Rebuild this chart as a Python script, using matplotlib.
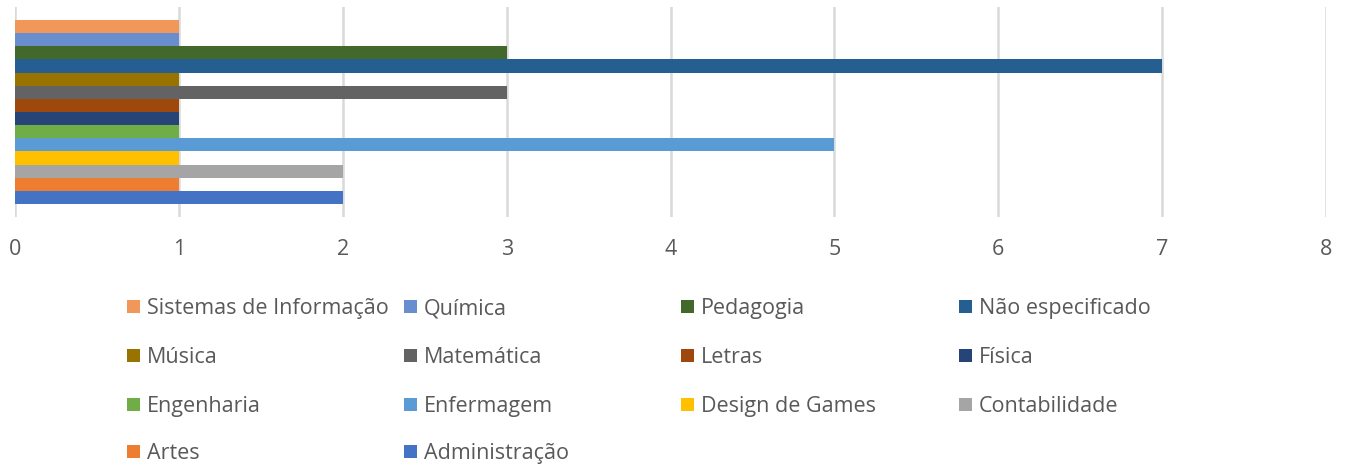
import matplotlib
matplotlib.use("Agg")
import matplotlib.pyplot as plt
from matplotlib.patches import Rectangle

# bottom-to-top order as drawn on the chart
cursos = ["Administração", "Artes", "Contabilidade", "Design de Games",
          "Enfermagem", "Engenharia", "Física", "Letras", "Matemática",
          "Música", "Não especificado", "Pedagogia", "Química",
          "Sistemas de Informação"]
valores = [2, 1, 2, 1, 5, 1, 1, 1, 3, 1, 7, 3, 1, 1]
cores = ["#4472C4", "#ED7D31", "#A5A5A5", "#FFC000", "#5B9BD5", "#70AD47",
         "#264478", "#9E480E", "#636363", "#997300", "#255E91", "#43682B",
         "#698ED0", "#F1975A"]
xticks = list(range(0, 9))

plt.rcParams["font.family"] = ["Open Sans", "DejaVu Sans"]
TXT = "#595959"
FS = 15.5

W, H = 1349, 466
fig = plt.figure(figsize=(W / 100, H / 100), dpi=100)
ax = fig.add_axes([15.3 / W, 1 - 217 / H, (1326 - 15.3) / W, 210 / H])

ax.barh(range(len(cursos)), valores, height=1.0, color=cores, zorder=3)

ax.set_xlim(0, 8)
ax.set_ylim(-1.49, len(cursos) - 0.5 + 0.99)
ax.set_xticks(xticks)
ax.set_yticks([])
ax.grid(axis="x", color="#D9D9D9", linewidth=1.8, zorder=0)
for s in ax.spines.values():
    s.set_visible(False)
ax.tick_params(axis="x", length=0, pad=16, labelsize=FS, labelcolor=TXT)

# legend laid out like Excel: equal-width columns, reversed series order
ordem = list(range(len(cursos)))[::-1]
col_x = [127, 404, 681, 959]
row_y = [306, 355, 404, 451]
sq = 13
for k, i in enumerate(ordem):
    r, c = divmod(k, 4)
    x0, yc = col_x[c], row_y[r]
    fig.add_artist(Rectangle((x0 / W, 1 - (yc + sq / 2) / H), sq / W, sq / H,
                             transform=fig.transFigure, color=cores[i],
                             linewidth=0))
    fig.text((x0 + sq + 7) / W, 1 - (yc + 8) / H, cursos[i], fontsize=FS,
             color=TXT, va="baseline", ha="left")

fig.savefig("out.png", dpi=100)
